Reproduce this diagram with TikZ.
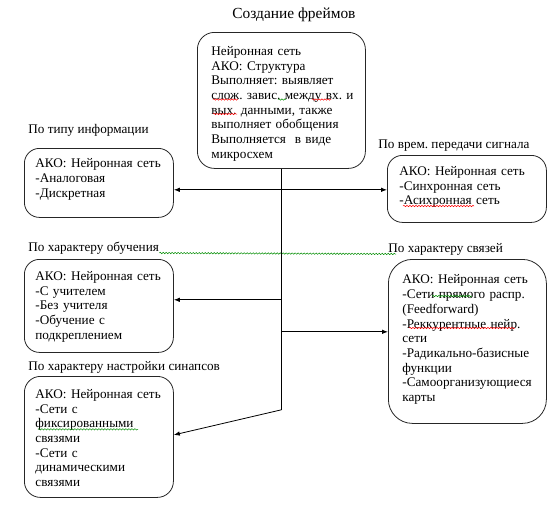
\documentclass[tikz,border=0pt]{standalone}
\usepackage{fontspec}
\setmainfont{Liberation Serif}
\usetikzlibrary{positioning, arrows.meta, calc, decorations.pathmorphing}
\frenchspacing

\begin{document}
\begin{tikzpicture}[
    x=1pt, y=-1pt,
    line width=0.8pt,
    >={Latex[length=6pt, width=4.5pt]},
    font=\rmfamily\fontsize{13.2}{14.7}\selectfont,
    box/.style={draw=black!85, rounded corners=15pt, align=left, anchor=north west,
                inner xsep=11pt, inner ysep=9pt},
    lbl/.style={inner sep=0pt, anchor=base west},
    wavy/.style={line width=0.5pt, decorate, decoration={snake, segment length=3pt, amplitude=0.7pt}},
    errred/.style={wavy, red},
    errgreen/.style={wavy, green!55!black}
]
    \useasboundingbox (0,0) rectangle (558,507);

    % --- 1. タイトルと中央の箱 ---
    \node [lbl, font=\rmfamily\fontsize{15.4}{17}\selectfont] (title) at (232,18.5) {Создание фреймов};

    \node [box, rounded corners=17pt, inner xsep=14pt, text width=140pt,
           text height=14pt, text depth=104pt] (net) at (197,32) {%
        Нейронная сеть\\
        АКО: Структура\\
        Выполняет: выявляет\\
        \mbox{слож. завис. между вх. и}\\
        вых. данными, также\\
        выполняет обобщения\\
        Выполняется\ \ в виде\\
        микросхем};

    % --- 2. 左側の箱 ---
    \node [box, text width=127pt, text height=10.5pt, text depth=40.5pt] (info) at (24,148) {%
        АКО: Нейронная сеть\\
        -Аналоговая\\
        -Дискретная};

    \node [box, text width=127pt, text height=12pt, text depth=63pt] (learn) at (24,259) {%
        АКО: Нейронная сеть\\
        -С учителем\\
        -Без учителя\\
        -Обучение с\\
        подкреплением};

    \node [box, rounded corners=16pt, text width=127pt, text height=13pt, text depth=90pt] (synapse) at (24,376) {%
        АКО: Нейронная сеть\\
        -Сети с\\
        фиксированными\\
        связями\\
        -Сети с\\
        динамическими\\
        связями};

    % --- 3. 右側の箱 ---
    \node [box, inner xsep=12pt, text width=135pt, text height=11pt, text depth=38pt] (signal) at (387,155) {%
        АКО: Нейронная сеть\\
        -Синхронная сеть\\
        -Асихронная сеть};

    \node [box, rounded corners=24pt, inner xsep=14pt, text width=130pt,
           text height=15.5pt, text depth=130.5pt] (links) at (388,259) {%
        АКО: Нейронная сеть\\
        -Сети прямого распр.\\
        (Feedforward)\\
        -Реккурентные нейр.\\
        сети\\
        -Радикально-базисные\\
        функции\\
        -Самоорганизующиеся\\
        карты};

    % --- 4. 箱の上のラベル ---
    \node [lbl, above=15pt of info.north west, anchor=base west, xshift=4pt] (infolbl) {По типу информации};
    \node [lbl, above=7pt of signal.north west, anchor=base west, xshift=-9pt] (signallbl) {По врем. передачи сигнала};
    \node [lbl, above=8pt of learn.north west, anchor=base west, xshift=4pt] (learnlbl) {По характеру обучения};
    \node [lbl, above=7pt of links.north west, anchor=base west] (linkslbl) {По характеру связей};
    \node [lbl, above=6pt of synapse.north west, anchor=base west, xshift=4pt] (synapselbl) {По характеру настройки синапсов};

    % --- 5. 波線（スペルチェック） ---
    \draw [errgreen] ([yshift=-2pt]learnlbl.base east) -- ([yshift=-2pt, xshift=8pt]linkslbl.base west);
    \draw [errred]   ($(net.north west) + (16,67.5)$) -- ++(25,0);
    \draw [errgreen] ($(net.north west) + (81,67.5)$) -- ++(8,0);
    \draw [errred]   ($(net.north west) + (115,67.5)$) -- ++(19,0);
    \draw [errred]   ($(net.north west) + (16,82)$) -- ++(24,0);
    \draw [errred]   ($(signal.north west) + (16,51)$) -- ++(71,0);
    \draw [errgreen] ($(links.north west) + (44,37)$) -- ++(40,0);
    \draw [errred]   ($(links.north west) + (21,69)$) -- ++(106,0);
    \draw [errgreen] ($(synapse.north west) + (14,53.3)$) -- ++(100,0);

    % --- 6. 幹線と矢印 ---
    \coordinate (tA) at ($(net.south) + (0,21)$);
    \coordinate (tB) at ($(net.south) + (0,131)$);
    \coordinate (tC) at ($(net.south) + (0,163)$);
    \coordinate (tD) at ($(net.south) + (0,241)$);

    \draw (net.south) -- (tD);
    \draw [->] (tA) -- (tA -| info.east);
    \draw [->] (tA) -- (tA -| signal.west);
    \draw [->] (tB) -- (tB -| learn.east);
    \draw [->] (tC) -- (tC -| links.west);
    \draw [->] (tD) -- ([yshift=2pt]synapse.east);

\end{tikzpicture}
\end{document}
